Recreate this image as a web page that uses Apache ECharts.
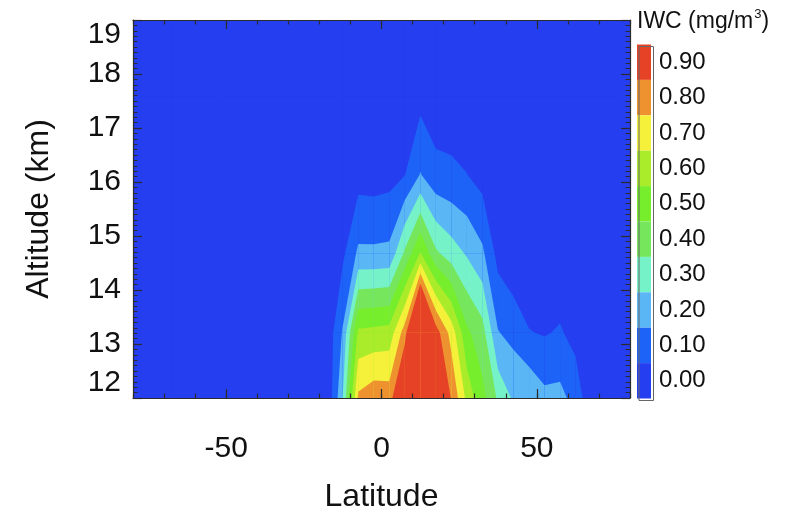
<!DOCTYPE html>
<html>
<head>
<meta charset="utf-8">
<script src="https://cdn.jsdelivr.net/npm/echarts@6/dist/echarts.min.js"></script>
<style>
  html, body { margin: 0; padding: 0; background: #ffffff; }
  #chart { width: 797px; height: 512px; }
</style>
</head>
<body>
<div id="chart"></div>
<script>
// Latitude bins (centres, degrees) and altitude levels (km) of the IWC grid
const latitudes = [-77.5, -72.5, -67.5, -62.5, -57.5, -52.5, -47.5, -42.5, -37.5, -32.5, -27.5, -22.5,
                   -17.5, -12.5, -7.5, -2.5, 2.5, 7.5, 12.5, 17.5, 22.5, 27.5, 32.5, 37.5,
                   42.5, 47.5, 52.5, 57.5, 62.5, 67.5, 72.5, 77.5];
const altitudes = [11.75, 13.21, 14.67, 16.13, 17.59, 19.05];

// Ice water content (mg/m3) on each altitude level, one value per latitude bin
const iwc1175 = [0.01, 0.01, 0.02, 0.01, 0.02, 0.01, 0.02, 0.01, 0.02, 0.01, 0.02, 0.02,
                 0.01, 0.32, 0.86, 0.91, 0.90, 1.20, 1.50, 0.99, 0.92, 0.70, 0.55, 0.41,
                 0.315, 0.325, 0.254, 0.254, 0.186, 0.04, 0.02, 0.01];
const iwc1321 = [0.02, 0.02, 0.02, 0.02, 0.02, 0.02, 0.02, 0.02, 0.02, 0.02, 0.02, 0.02,
                 0.03, 0.21, 0.62, 0.63, 0.64, 0.85, 1.38, 0.95, 0.76, 0.52, 0.44, 0.205,
                 0.168, 0.105, 0.092, 0.111, 0.063, 0.02, 0.01, 0.01];
const iwc1467 = [0.01, 0.01, 0.01, 0.01, 0.01, 0.01, 0.01, 0.01, 0.01, 0.01, 0.01, 0.01,
                 0.01, 0.08, 0.22, 0.22, 0.225, 0.42, 0.61, 0.42, 0.35, 0.29, 0.22, 0.067,
                 0.02, 0.01, 0.01, 0.02, 0.01, 0.01, 0.01, 0.01];
const iwc1613 = [0.01, 0.01, 0.01, 0.01, 0.01, 0.01, 0.01, 0.01, 0.01, 0.01, 0.01, 0.01,
                 0.02, 0.04, 0.06, 0.055, 0.065, 0.098, 0.206, 0.13, 0.12, 0.102, 0.061, 0.03,
                 0.01, 0.01, 0.01, 0.01, 0.01, 0.01, 0.01, 0.01];
const iwc1759 = [0.01, 0.01, 0.01, 0.01, 0.01, 0.01, 0.01, 0.01, 0.01, 0.01, 0.01, 0.01,
                 0.01, 0.01, 0.01, 0.02, 0.02, 0.03, 0.066, 0.04, 0.04, 0.02, 0.01, 0.01,
                 0.01, 0.01, 0.01, 0.01, 0.01, 0.01, 0.01, 0.01];
const iwc1905 = [0.01, 0.01, 0.01, 0.01, 0.01, 0.01, 0.01, 0.01, 0.01, 0.01, 0.01, 0.01,
                 0.01, 0.01, 0.01, 0.01, 0.01, 0.01, 0.01, 0.01, 0.01, 0.01, 0.01, 0.01,
                 0.01, 0.01, 0.01, 0.01, 0.01, 0.01, 0.01, 0.01];

// Filled-contour levels, their colour-bar labels and colours
const contourLevels = [0.0, 0.1, 0.2, 0.3, 0.4, 0.5, 0.6, 0.7, 0.8, 0.9];
const levelLabels = ['0.00', '0.10', '0.20', '0.30', '0.40', '0.50', '0.60', '0.70', '0.80', '0.90'];
const levelColors = ['#253ef0', '#1e63f7', '#5ab6f5', '#76f2c8', '#76e65c',
                     '#77ee2c', '#aaec2a', '#f5f03a', '#ed922f', '#e64326'];

// Axis label values
const latLabels = [-50, 0, 50];
const altLabels = [12, 13, 14, 15, 16, 17, 18, 19];

const FONT = 'Liberation Sans, Arial, Helvetica, sans-serif';
const rows = [iwc1175, iwc1321, iwc1467, iwc1613, iwc1759, iwc1905];

// Part of one grid cell where IWC >= level (linear interpolation along the cell edges)
function bandPolygon(i, j, level) {
  const corners = [
    [latitudes[i], altitudes[j], rows[j][i]],
    [latitudes[i + 1], altitudes[j], rows[j][i + 1]],
    [latitudes[i + 1], altitudes[j + 1], rows[j + 1][i + 1]],
    [latitudes[i], altitudes[j + 1], rows[j + 1][i]]
  ];
  const pts = [];
  for (let n = 0; n < 4; n++) {
    const a = corners[n], b = corners[(n + 1) % 4];
    const inA = a[2] >= level, inB = b[2] >= level;
    if (inA) pts.push([a[0], a[1]]);
    if (inA !== inB) {
      const t = (level - a[2]) / (b[2] - a[2]);
      pts.push([a[0] + t * (b[0] - a[0]), a[1] + t * (b[1] - a[1])]);
    }
  }
  return pts;
}

// One item per (level, cell): [cell latitude, cell altitude, level]
const cellItems = [];
contourLevels.forEach(level => {
  for (let j = 0; j < altitudes.length - 1; j++) {
    for (let i = 0; i < latitudes.length - 1; i++) {
      cellItems.push([latitudes[i], altitudes[j], level]);
    }
  }
});

const chart = echarts.init(document.getElementById('chart'), null, { renderer: 'canvas' });

const gridBox = { left: 133, right: 167, top: 20, bottom: 114 };
const INK = '#2b2b2b';

function latAxis(position, withLabels, majorOnly) {
  const ax = {
    type: 'value', position: position, min: -80, max: 80, interval: 10, z: 10,
    axisLine: { show: !majorOnly, onZero: false, lineStyle: { color: INK, width: 1.2 } },
    splitLine: { show: false },
    axisTick: { show: true, inside: true, length: majorOnly ? 9 : 4.5,
                lineStyle: { color: INK, width: 1.2 } },
    axisLabel: { show: false }
  };
  if (majorOnly) {
    ax.axisTick.customValues = latLabels;
  }
  if (withLabels) {
    ax.axisLabel = {
      show: true, fontSize: 30, color: '#111', fontFamily: FONT, margin: 36,
      customValues: latLabels,
      formatter: v => String(v)
    };
    ax.name = 'Latitude';
    ax.nameLocation = 'middle';
    ax.nameGap = 83;
    ax.nameTextStyle = { fontSize: 32, color: '#111', fontFamily: FONT };
  }
  return ax;
}

function altAxis(position, withLabels) {
  const ax = {
    type: 'value', position: position, min: 12, max: 19, interval: 1, z: 10,
    axisLine: { show: true, onZero: false, lineStyle: { color: INK, width: 1.2 } },
    splitLine: { show: false },
    axisTick: { show: true, inside: true, length: 9, lineStyle: { color: INK, width: 1.2 } },
    minorTick: { show: true, splitNumber: 10, length: 4.5, lineStyle: { color: INK, width: 1 } },
    axisLabel: { show: false }
  };
  if (withLabels) {
    ax.axisLabel = {
      show: true, fontSize: 30, color: '#111', fontFamily: FONT, margin: 12,
      customValues: altLabels,
      verticalAlignMinLabel: 'bottom', verticalAlignMaxLabel: 'top'
    };
    ax.name = 'Altitude (km)';
    ax.nameLocation = 'middle';
    ax.nameRotate = 90;
    ax.nameGap = 78;
    ax.nameTextStyle = { fontSize: 32, color: '#111', fontFamily: FONT };
  }
  return ax;
}

chart.setOption({
  animation: false,
  backgroundColor: '#ffffff',
  title: {
    text: '{a|IWC (mg/m}{s|3}{a|)}',
    left: 637, top: 8, padding: 0,
    textStyle: {
      fontWeight: 'normal',
      rich: {
        a: { fontSize: 23, fontWeight: 'normal', color: '#111', fontFamily: FONT, lineHeight: 28 },
        s: { fontSize: 13, fontWeight: 'normal', color: '#111', fontFamily: FONT, lineHeight: 28,
             verticalAlign: 'top', padding: [0, 0, 14, 1] }
      }
    }
  },
  grid: Object.assign({ show: true, backgroundColor: levelColors[0], borderWidth: 0,
                        containLabel: false, outerBoundsMode: 'none' }, gridBox),
  xAxis: [
    latAxis('bottom', true, false),
    latAxis('bottom', false, true),
    latAxis('top', false, false),
    latAxis('top', false, true)
  ],
  yAxis: [
    altAxis('left', true),
    altAxis('right', false)
  ],
  visualMap: {
    type: 'piecewise',
    dimension: 2,
    seriesIndex: 0,
    pieces: contourLevels.map((c, k) => ({ value: c, label: levelLabels[k], color: levelColors[k] })),
    orient: 'vertical',
    left: 637, top: 44.5,
    padding: 0,
    itemWidth: 14, itemHeight: 35.4, itemGap: 0, itemSymbol: 'rect',
    textGap: 8, align: 'left',
    selectedMode: false, hoverLink: false,
    textStyle: { fontSize: 24, color: '#111', fontFamily: FONT }
  },
  graphic: [{
    type: 'rect', left: 636.5, top: 44, z: 10, silent: true,
    shape: { width: 14.5, height: 354 },
    style: { fill: null, stroke: '#666', lineWidth: 1 }
  }],
  series: [{
    type: 'custom',
    coordinateSystem: 'cartesian2d',
    xAxisIndex: 0, yAxisIndex: 0,
    clip: true,
    silent: true,
    z: 2,
    data: cellItems,
    renderItem: function (params, api) {
      const i = latitudes.indexOf(api.value(0));
      const j = altitudes.indexOf(api.value(1));
      const pts = bandPolygon(i, j, api.value(2));
      if (pts.length < 3) return null;
      return {
        type: 'polygon',
        shape: { points: pts.map(p => api.coord(p)) },
        style: { fill: api.visual('color') }
      };
    }
  }]
});
</script>
</body>
</html>
